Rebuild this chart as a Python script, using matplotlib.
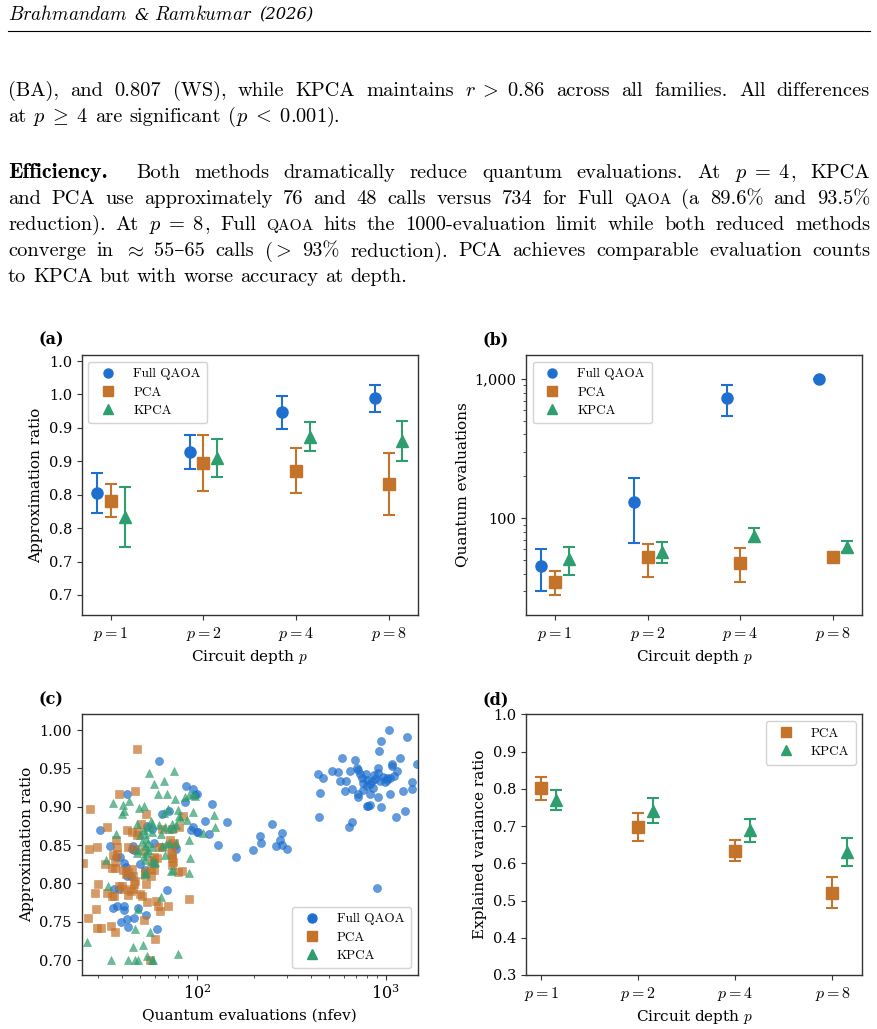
#!/usr/bin/env python3
"""
Page excerpt: efficiency paragraph + 2x2 figure (accuracy / evaluations / scatter / variance)
"""

import matplotlib
matplotlib.use('Agg')
import matplotlib.pyplot as plt
import numpy as np
from matplotlib.lines import Line2D
from matplotlib.ticker import FuncFormatter, NullFormatter

# ---------------- data ----------------
depths = ['$p=1$', '$p=2$', '$p=4$', '$p=8$']
methods = ['Full QAOA', 'PCA', 'KPCA']

# (a) approximation ratio (mean, std)
acc_full = [0.852, 0.914, 0.973, 0.994]
acc_full_err = [0.030, 0.026, 0.025, 0.020]
acc_pca = [0.841, 0.898, 0.886, 0.866]
acc_pca_err = [0.025, 0.042, 0.034, 0.046]
acc_kpca = [0.817, 0.905, 0.937, 0.930]
acc_kpca_err = [0.045, 0.028, 0.022, 0.030]
acc_ticks = [0.70, 0.75, 0.80, 0.85, 0.90, 0.95, 1.00, 1.05]
acc_ticklabels = ['0.7', '0.7', '0.8', '0.8', '0.9', '0.9', '1.0', '1.0']

# (b) quantum evaluations (mean, low, high)
ev_full = [45.7, 131.5, 734, 1000]
ev_full_lo = [30.2, 66.2, 545, 1000]
ev_full_hi = [60.2, 195.7, 906, 1000]
ev_pca = [35.1, 52.5, 48, 52.5]
ev_pca_lo = [28.1, 38.1, 35.1, 50.5]
ev_pca_hi = [41.9, 65.4, 60.9, 54.5]
ev_kpca = [50.8, 57.5, 75, 62.5]
ev_kpca_lo = [39.2, 48.0, 67.9, 57.0]
ev_kpca_hi = [62.5, 67.3, 85.6, 68.5]

# (c) per-run scatter
full_nfev = [1042, 1291, 944, 922, 585, 688, 1191, 1459, 1077, 1084, 915, 703, 717, 731,
             522, 557, 647, 437, 468, 787, 871, 972, 1055, 1143, 747, 794, 933, 1012, 573,
             614, 1374, 827, 861, 661, 755, 610, 450, 717, 827, 1055, 1230, 1374, 717, 915,
             794, 810, 830, 942, 444, 1129, 1265, 661, 640, 896, 760, 800, 850, 880, 990,
             1020, 1100, 905,
             144, 251, 282, 215, 274, 218, 129, 262, 282, 299, 198, 161,
             63, 87.4, 96, 100, 98, 121, 110, 116, 93, 100, 102, 95, 86.7, 65.8, 42.7, 30.8,
             34.8, 37.4, 39.3, 41.4, 42.3, 45.3, 49.8, 54.4, 57.8, 59.5, 75.8, 77.4, 44.6,
             42.7, 36.6, 38.6, 69.3, 35.9, 37.8, 41.0, 41.4, 49.1, 39.6, 42.7, 43.5, 46.8,
             54.0, 61.4, 45.8, 46.7, 53.5, 71.2]
full_ratio = [1.000, 0.991, 0.986, 0.973, 0.964, 0.961, 0.964, 0.956, 0.956, 0.953, 0.951,
              0.950, 0.948, 0.943, 0.947, 0.945, 0.947, 0.943, 0.938, 0.943, 0.941, 0.939,
              0.938, 0.947, 0.937, 0.935, 0.933, 0.935, 0.933, 0.933, 0.932, 0.930, 0.925,
              0.923, 0.922, 0.920, 0.918, 0.917, 0.917, 0.917, 0.921, 0.923, 0.912, 0.912,
              0.901, 0.901, 0.902, 0.899, 0.887, 0.887, 0.894, 0.880, 0.873, 0.794, 0.931,
              0.927, 0.933, 0.936, 0.932, 0.937, 0.940, 0.944,
              0.880, 0.878, 0.866, 0.862, 0.857, 0.853, 0.850, 0.849, 0.850, 0.845, 0.843, 0.834,
              0.960, 0.927, 0.923, 0.917, 0.915, 0.903, 0.881, 0.864, 0.870, 0.867, 0.867,
              0.874, 0.906, 0.890, 0.916, 0.870, 0.849, 0.834, 0.835, 0.827, 0.822, 0.845,
              0.825, 0.875, 0.871, 0.852, 0.849, 0.845, 0.810, 0.810, 0.793, 0.793, 0.791,
              0.768, 0.770, 0.771, 0.765, 0.768, 0.749, 0.753, 0.743, 0.755, 0.759, 0.740,
              0.849, 0.843, 0.817, 0.895]

pca_nfev = [48.2, 27.3, 47.2, 38.8, 53.7, 84.4, 33.6, 42.7, 45.3, 50.6, 49.0, 48.5, 29.6,
            27.0, 37.2, 38.0, 43.2, 36.0, 37.8, 32.7, 35.5, 37.0, 36.8, 40.5, 43.5, 42.3,
            45.3, 45.9, 58.2, 59.5, 61.4, 57.3, 53.3, 63.4, 72.3, 73.8, 76.2, 72.6, 73.6,
            74.2, 74.8, 73.8, 80.0, 84.0, 80.9, 29.9, 29.0, 33.6, 35.5, 36.6, 38.8, 40.4,
            41.2, 43.5, 44.9, 46.2, 49.8, 51.6, 47.2, 46.8, 53.7, 29.2, 26.5, 29.6, 31.0,
            35.2, 37.0, 52.5, 54.6, 60.9, 62.4, 64.0, 70.8, 60.3, 56.6, 91.2, 24.9,
            65.6, 74.0, 47.3, 52.4, 65.6, 59.7, 56.9, 59.1, 53.5]
pca_ratio = [0.975, 0.897, 0.920, 0.916, 0.891, 0.888, 0.874, 0.870, 0.867, 0.877, 0.867,
             0.863, 0.848, 0.845, 0.857, 0.848, 0.848, 0.837, 0.838, 0.825, 0.820, 0.828,
             0.820, 0.818, 0.815, 0.812, 0.819, 0.809, 0.830, 0.827, 0.833, 0.809, 0.815,
             0.848, 0.857, 0.849, 0.853, 0.840, 0.837, 0.833, 0.828, 0.824, 0.815, 0.816,
             0.874, 0.799, 0.788, 0.788, 0.784, 0.783, 0.796, 0.797, 0.793, 0.785, 0.790,
             0.793, 0.786, 0.784, 0.803, 0.799, 0.799, 0.767, 0.755, 0.742, 0.742, 0.744,
             0.736, 0.752, 0.776, 0.777, 0.771, 0.764, 0.770, 0.728, 0.700, 0.780, 0.826,
             0.871, 0.871, 0.845, 0.842, 0.847, 0.835, 0.819, 0.817, 0.811]

kpca_nfev = [56.0, 75.9, 67.2, 59.7, 62.2, 69.3, 76.7, 86.7, 91.4, 95.0, 98.0, 36.0, 40.5,
             41.4, 40.4, 44.0, 49.6, 52.6, 67.2, 70.8, 79.2, 80.5, 95.3, 124, 125, 37.4,
             48.2, 50.2, 52.3, 54.4, 57.8, 58.2, 63.0, 65.0, 67.7, 74.0, 75.0, 78.0, 51.3,
             53.7, 55.5, 57.8, 48.2, 49.1, 52.6, 54.4, 65.6, 68.3, 71.1, 78.0, 90.4, 108,
             58.2, 59.5, 67.7, 52.3, 53.7, 75.0, 72.6, 92.3, 90.4, 33.1, 34.1, 48.8, 64.7,
             26.4, 47.2, 56.6, 45.7, 51.8, 54.4, 79.4, 35.3, 43.2, 46.9, 48.9, 58.2, 58.9,
             57.5, 71.1, 81.3, 88.9, 53.1, 53.5, 55.1, 53.1, 59.9]
kpca_ratio = [0.944, 0.947, 0.933, 0.930, 0.917, 0.917, 0.910, 0.913, 0.915, 0.917, 0.914,
              0.905, 0.902, 0.895, 0.891, 0.907, 0.898, 0.901, 0.892, 0.897, 0.896, 0.888,
              0.893, 0.889, 0.874, 0.865, 0.877, 0.863, 0.870, 0.874, 0.878, 0.867, 0.876,
              0.865, 0.874, 0.878, 0.872, 0.876, 0.854, 0.858, 0.852, 0.848, 0.839, 0.843,
              0.836, 0.840, 0.849, 0.851, 0.852, 0.852, 0.857, 0.866, 0.829, 0.827, 0.837,
              0.812, 0.814, 0.817, 0.816, 0.833, 0.814, 0.831, 0.797, 0.767, 0.782, 0.723,
              0.740, 0.737, 0.717, 0.719, 0.705, 0.708, 0.700, 0.700, 0.700, 0.700, 0.700,
              0.700, 0.881, 0.871, 0.885, 0.883, 0.864, 0.849, 0.843, 0.830, 0.828]

# (d) explained variance ratio
var_pca = [0.801, 0.698, 0.634, 0.521]
var_pca_err = [0.031, 0.038, 0.028, 0.042]
var_kpca = [0.770, 0.741, 0.689, 0.631]
var_kpca_err = [0.027, 0.033, 0.031, 0.037]

C_FULL = '#1f6fce'
C_PCA = '#c4732b'
C_KPCA = '#2f9e6e'

# ---------------- style ----------------
plt.rcParams.update({
    'font.family': 'serif',
    'font.serif': ['DejaVu Serif'],
    'mathtext.fontset': 'cm',
    'axes.edgecolor': '#333333',
    'axes.linewidth': 1.0,
    'xtick.color': '#333333',
    'ytick.color': '#333333',
    'xtick.labelcolor': 'black',
    'ytick.labelcolor': 'black',
    'xtick.labelsize': 10.5,
    'ytick.labelsize': 10.5,
    'axes.labelsize': 11,
})

W, H = 877, 1029
fig = plt.figure(figsize=(W / 100, H / 100), dpi=100)


def fx(px):
    return px / W


def fy(py):
    return 1 - py / H


# ---------------- page text ----------------
BODY = 14.7
RM = ['cmr10', 'DejaVu Serif']


def style_kw(st):
    if st == 'bf':
        return dict(family=['cmb10', 'DejaVu Serif'], fontsize=BODY * 1.08)
    if st == 'sc':
        return dict(family=RM, fontsize=BODY * 0.76)
    if st == 'it':
        return dict(family='DejaVu Serif', style='italic', fontsize=BODY * 0.8)
    if st == 'hd':
        return dict(fontsize=BODY * 0.93)
    return dict(family=RM, fontsize=BODY)


def set_line(y, words, justify=True, x0=8, x1=870, quad=0, gap=None):
    renderer = fig.canvas.get_renderer()
    placed = []
    for word in words:
        if isinstance(word, str):
            word = [(word, 'rm')]
        items = []
        for s, st in word:
            t = fig.text(0, fy(y), s, va='baseline', ha='left', **style_kw(st))
            items.append((t, t.get_window_extent(renderer).width))
        placed.append(items)
    total = sum(w for it in placed for _, w in it)
    if justify:
        gap = (x1 - x0 - total - quad) / (len(placed) - 1)
    elif gap is None:
        gap = BODY * 100 / 72 * 0.333
    x = x0
    for i, items in enumerate(placed):
        for t, w in items:
            t.set_x(fx(x))
            x += w
        x += gap + (quad if i == 0 else 0)


set_line(19.5, [[('$Brahmandam$', 'hd')], [('&', 'it')], [('$Ramkumar$', 'hd')],
                [('(2026)', 'it')]], justify=False, gap=6)
fig.add_artist(Line2D([fx(8), fx(870)], [fy(31), fy(31)], transform=fig.transFigure,
                      color='black', lw=0.8))

QA = ('QAOA', 'sc')
set_line(95.7, ['(BA),', 'and', '0.807', '(WS),', 'while', 'KPCA', 'maintains',
                [(r'$r\;>\;0.86$', 'mt')], 'across', 'all', 'families.', 'All', 'differences'])
set_line(121.7, ['at', [(r'$p\;\geq\;4$', 'mt')], 'are', 'significant',
                 [('(', 'rm'), (r'$p\;<\;0.001$', 'mt'), (').', 'rm')]], justify=False)
set_line(178.3, [[('Efficiency.', 'bf')], 'Both', 'methods', 'dramatically', 'reduce', 'quantum',
                 'evaluations.', 'At', [(r'$p\;=\;4$', 'mt'), (',', 'rm')], 'KPCA'], quad=14)
set_line(204.3, ['and', 'PCA', 'use', 'approximately', '76', 'and', '48', 'calls', 'versus',
                 '734', 'for', 'Full', [QA], '(a', '89.6%', 'and', '93.5%'])
set_line(230.4, ['reduction).', 'At', [(r'$p\;=\;8$', 'mt'), (',', 'rm')], 'Full', [QA], 'hits',
                 'the', '1000-evaluation', 'limit', 'while', 'both', 'reduced', 'methods'])
set_line(256.5, ['converge', 'in', [(r'$\approx$', 'mt')], '55\u201365', 'calls',
                 [('(', 'rm'), ('$>$', 'mt')], '93%', 'reduction).', 'PCA', 'achieves',
                 'comparable', 'evaluation', 'counts'])
set_line(282.5, ['to', 'KPCA', 'but', 'with', 'worse', 'accuracy', 'at', 'depth.'],
         justify=False)

# ---------------- panels ----------------
ax_a = fig.add_axes([fx(81.7), fy(615), 336 / W, 260 / H])
ax_b = fig.add_axes([fx(526), fy(615), 336.3 / W, 260 / H])
ax_c = fig.add_axes([fx(81.7), fy(975), 336 / W, 260.7 / H])
ax_d = fig.add_axes([fx(526), fy(975), 336.3 / W, 260.7 / H])

idx = np.arange(len(depths))
ebar = dict(ms=8, capsize=4, elinewidth=1.5, capthick=1.5)
leg_kw = dict(prop={'family': 'cmr10', 'size': 9.5}, framealpha=0.85, edgecolor='#cccccc',
              borderpad=0.5, labelspacing=0.45, handletextpad=0.9)
proxies = [Line2D([], [], ls='none', marker=m, ms=6.5, color=c)
           for m, c in zip(['o', 's', '^'], [C_FULL, C_PCA, C_KPCA])]

# (a)
ax_a.errorbar(idx - 0.15, acc_full, yerr=acc_full_err, fmt='o', color=C_FULL, **ebar)
ax_a.errorbar(idx, acc_pca, yerr=acc_pca_err, fmt='s', color=C_PCA, **ebar)
ax_a.errorbar(idx + 0.15, acc_kpca, yerr=acc_kpca_err, fmt='^', color=C_KPCA, **ebar)
ax_a.set_yticks(acc_ticks)
ax_a.set_yticklabels(acc_ticklabels)
ax_a.set_ylim(0.67, 1.059)
ax_a.set_ylabel('Approximation ratio')
ax_a.legend(proxies, methods, loc='upper left', **leg_kw)

# (b)
ax_b.errorbar(idx - 0.15, ev_full,
              yerr=[np.subtract(ev_full, ev_full_lo), np.subtract(ev_full_hi, ev_full)],
              fmt='o', color=C_FULL, **ebar)
ax_b.errorbar(idx, ev_pca,
              yerr=[np.subtract(ev_pca, ev_pca_lo), np.subtract(ev_pca_hi, ev_pca)],
              fmt='s', color=C_PCA, **ebar)
ax_b.errorbar(idx + 0.15, ev_kpca,
              yerr=[np.subtract(ev_kpca, ev_kpca_lo), np.subtract(ev_kpca_hi, ev_kpca)],
              fmt='^', color=C_KPCA, **ebar)
ax_b.set_yscale('log')
ax_b.set_ylim(20.2, 1490)
ax_b.yaxis.set_major_formatter(FuncFormatter(lambda v, _: f'{v:,.0f}'))
ax_b.yaxis.set_minor_formatter(NullFormatter())
ax_b.set_ylabel('Quantum evaluations')
ax_b.legend(proxies, methods, loc='upper left', **leg_kw)

for ax in (ax_a, ax_b):
    ax.set_xticks(idx)
    ax.set_xticklabels(depths, fontsize=11.5)
    ax.set_xlim(-0.315, 3.315)
    ax.set_xlabel('Circuit depth $p$')

# (c)
sc_kw = dict(s=34, alpha=0.7, linewidths=0.4)
ax_c.scatter(full_nfev, full_ratio, marker='o', color=C_FULL, **sc_kw)
ax_c.scatter(pca_nfev, pca_ratio, marker='s', color=C_PCA, **sc_kw)
ax_c.scatter(kpca_nfev, kpca_ratio, marker='^', color=C_KPCA, **sc_kw)
ax_c.set_xscale('log')
ax_c.set_xlim(24.6, 1476)
ax_c.set_ylim(0.6805, 1.0205)
ax_c.set_yticks([0.70, 0.75, 0.80, 0.85, 0.90, 0.95, 1.00])
ax_c.yaxis.set_major_formatter(FuncFormatter(lambda v, _: f'{v:.2f}'))
ax_c.tick_params(axis='x', labelsize=11.5)
ax_c.set_xlabel('Quantum evaluations (nfev)')
ax_c.set_ylabel('Approximation ratio')
ax_c.legend(proxies, methods, loc='lower right', **leg_kw)

# (d)
ax_d.errorbar(idx, var_pca, yerr=var_pca_err, fmt='s', color=C_PCA, **ebar)
ax_d.errorbar(idx + 0.15, var_kpca, yerr=var_kpca_err, fmt='^', color=C_KPCA, **ebar)
ax_d.set_ylim(0.3, 1.0)
ax_d.set_yticks([0.3, 0.4, 0.5, 0.6, 0.7, 0.8, 0.9, 1.0])
ax_d.yaxis.set_major_formatter(FuncFormatter(lambda v, _: f'{v:.1f}'))
ax_d.set_xticks(idx)
ax_d.set_xticklabels(depths, fontsize=11.5)
ax_d.set_xlim(-0.1575, 3.3075)
ax_d.set_xlabel('Circuit depth $p$')
ax_d.set_ylabel('Explained variance ratio')
ax_d.legend(proxies[1:], methods[1:], loc='upper right', **leg_kw)

# panel tags
for tag, px, py in [('(a)', 38, 344), ('(b)', 482, 344), ('(c)', 38, 704), ('(d)', 482, 704)]:
    fig.text(fx(px), fy(py), tag, fontsize=11.5, fontweight='bold', va='baseline', ha='left')

fig.savefig('out.png', dpi=100)
print("saved out.png")
